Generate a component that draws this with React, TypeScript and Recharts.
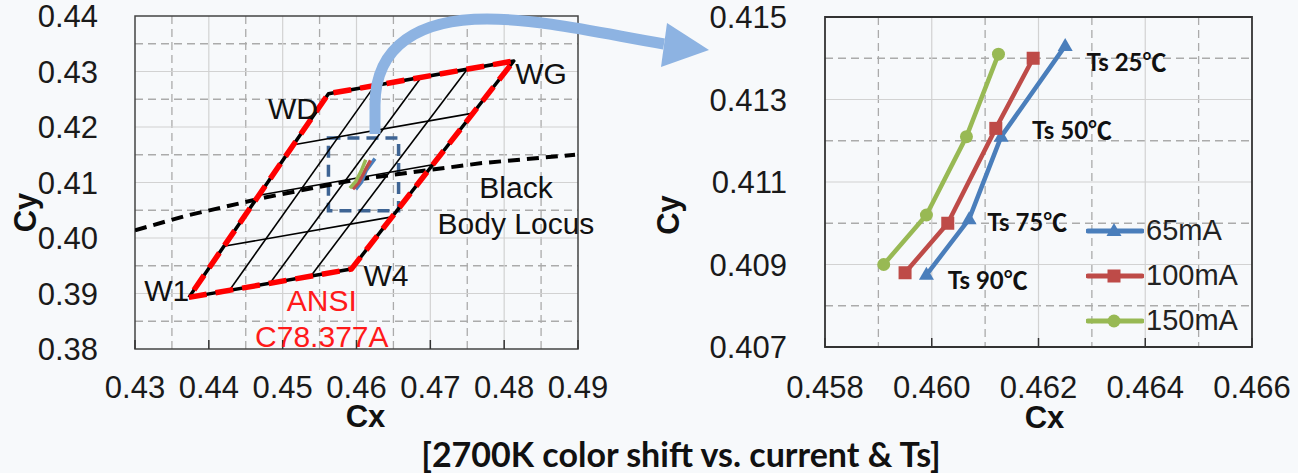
import React from "react";
import {
  ComposedChart,
  Line,
  XAxis,
  YAxis,
  CartesianGrid,
  ReferenceArea,
  ReferenceDot,
  Legend,
} from "recharts";

type Pt = { x: number; y: number };

// ---- left chart (ANSI quadrangle) ----
const leftXTicks = [0.43, 0.44, 0.45, 0.46, 0.47, 0.48, 0.49];
const leftYTicks = [0.38, 0.39, 0.4, 0.41, 0.42, 0.43, 0.44];
const leftXMinor = [0.435, 0.445, 0.455, 0.465, 0.475, 0.485];
const leftYMinor = [0.385, 0.395, 0.405, 0.415, 0.425, 0.435];

// W1 -> W4 -> WG -> WD -> W1
const ansiQuad: Pt[] = [
  { x: 0.4373, y: 0.3893 },
  { x: 0.4593, y: 0.3944 },
  { x: 0.4813, y: 0.4319 },
  { x: 0.4562, y: 0.426 },
  { x: 0.4373, y: 0.3893 },
];

const steepLines: Pt[][] = [
  [{ x: 0.4428, y: 0.3906 }, { x: 0.4625, y: 0.4275 }],
  [{ x: 0.4483, y: 0.3919 }, { x: 0.4688, y: 0.429 }],
  [{ x: 0.4538, y: 0.3931 }, { x: 0.475, y: 0.4304 }],
];

const crossLines: Pt[][] = [
  [{ x: 0.442, y: 0.3985 }, { x: 0.4648, y: 0.4038 }],
  [{ x: 0.4468, y: 0.4077 }, { x: 0.4703, y: 0.4132 }],
  [{ x: 0.4515, y: 0.4168 }, { x: 0.4758, y: 0.4225 }],
];

const blackBodyLocus: Pt[] = [
  { x: 0.43, y: 0.4014 },
  { x: 0.4369, y: 0.404 },
  { x: 0.4476, y: 0.4073 },
  { x: 0.4599, y: 0.4105 },
  { x: 0.477, y: 0.4135 },
  { x: 0.4896, y: 0.415 },
];

const zoomBox = { x1: 0.4562, x2: 0.4657, y1: 0.4049, y2: 0.418 };

const leftNotes = [
  { text: "W1", x: 0.4343, y: 0.3905, color: "#111" },
  { text: "WD", x: 0.4514, y: 0.4234, color: "#111" },
  { text: "WG", x: 0.485, y: 0.4297, color: "#111" },
  { text: "W4", x: 0.464, y: 0.3933, color: "#111" },
  { text: "Black", x: 0.4816, y: 0.4092, color: "#111" },
  { text: "Body Locus", x: 0.4816, y: 0.4027, color: "#111" },
  { text: "ANSI", x: 0.4553, y: 0.3887, color: "#ff1a1a" },
  { text: "C78.377A", x: 0.4553, y: 0.3823, color: "#ff1a1a" },
];

// ---- right chart (zoom) ----
const rightXTicks = [0.458, 0.46, 0.462, 0.464, 0.466];
const rightYTicks = [0.407, 0.409, 0.411, 0.413, 0.415];
const rightXMinor = [0.459, 0.461, 0.463, 0.465];
const rightYMinor = [0.408, 0.41, 0.412, 0.414];

// points at Ts 25, 50, 75, 90 C
const ma65: Pt[] = [
  { x: 0.4625, y: 0.4143 },
  { x: 0.4613, y: 0.4121 },
  { x: 0.4607, y: 0.4101 },
  { x: 0.4599, y: 0.40875 },
];
const ma100: Pt[] = [
  { x: 0.4619, y: 0.414 },
  { x: 0.4612, y: 0.4123 },
  { x: 0.4603, y: 0.41 },
  { x: 0.4595, y: 0.4088 },
];
const ma150: Pt[] = [
  { x: 0.46125, y: 0.4141 },
  { x: 0.46065, y: 0.4121 },
  { x: 0.4599, y: 0.4102 },
  { x: 0.4591, y: 0.409 },
];

const tsNotes = [
  { text: "Ts 25℃", x: 0.4629, y: 0.4139 },
  { text: "Ts 50℃", x: 0.46188, y: 0.41226 },
  { text: "Ts 75℃", x: 0.46104, y: 0.41003 },
  { text: "Ts 90℃", x: 0.4603, y: 0.40862 },
];

const BLUE = "#4a7ebb";
const RED = "#be4b48";
const GREEN = "#98b954";

const series = [
  { name: "65mA", data: ma65, color: BLUE, marker: "triangle" },
  { name: "100mA", data: ma100, color: RED, marker: "square" },
  { name: "150mA", data: ma150, color: GREEN, marker: "circle" },
];

const FONT = "'Liberation Sans', Arial, sans-serif";
const tickStyle = { fill: "#1a1a1a", fontSize: 31, fontFamily: FONT };

function marker(kind: string, color: string, cx: number, cy: number, key?: any) {
  if (kind === "triangle")
    return (
      <path key={key} d={`M${cx},${cy - 8} L${cx + 7.5},${cy + 5} L${cx - 7.5},${cy + 5} Z`} fill={color} />
    );
  if (kind === "square")
    return <rect key={key} x={cx - 6.5} y={cy - 6.5} width={13} height={13} fill={color} />;
  return <circle key={key} cx={cx} cy={cy} r={6.5} fill={color} />;
}

const dotFor = (kind: string, color: string) => (p: any) =>
  marker(kind, color, p.cx, p.cy, `${kind}-${p.index}`);

const axisTitle = (text: string, dx: number, dy: number, vertical: boolean) => (props: any) => {
  const vb = props.viewBox || { x: 0, y: 0, width: 0, height: 0 };
  const x = vertical ? vb.x + dx : vb.x + vb.width / 2 + dx;
  const y = vertical ? vb.y + vb.height / 2 + dy : vb.y + dy;
  return (
    <text
      x={x}
      y={y}
      textAnchor="middle"
      dominantBaseline="central"
      transform={vertical ? `rotate(-90, ${x}, ${y})` : undefined}
      fontFamily={FONT}
      fontWeight="bold"
      fontSize={31}
      fill="#111"
    >
      {text}
    </text>
  );
};

function LegendBox() {
  return (
    <div>
      {series.map((s) => (
        <div key={s.name} style={{ display: "flex", alignItems: "center", height: 45 }}>
          <svg width={58} height={24}>
            <line x1={2} y1={12} x2={56} y2={12} stroke={s.color} strokeWidth={5} strokeLinecap="round" />
            {marker(s.marker, s.color, 28, 12)}
          </svg>
          <span style={{ fontFamily: FONT, fontSize: 29, color: "#222", marginLeft: 2, lineHeight: "45px" }}>
            {s.name}
          </span>
        </div>
      ))}
    </div>
  );
}

function LeftChart() {
  return (
    <ComposedChart width={620} height={473} margin={{ top: 16, right: 42, bottom: 0, left: 0 }}>
      <CartesianGrid horizontalValues={leftYMinor} verticalValues={leftXMinor} stroke="#ababab" strokeWidth={1.3} strokeDasharray="8 5" />
      <CartesianGrid horizontalValues={leftYTicks.slice(1, -1)} verticalValues={leftXTicks.slice(1, -1)} stroke="#d2d2d2" strokeWidth={1.2} />
      <XAxis
        dataKey="x"
        type="number"
        domain={[0.43, 0.49]}
        ticks={leftXTicks}
        tickFormatter={(v: number) => v.toFixed(2)}
        allowDataOverflow
        height={124}
        axisLine={false}
        tickSize={-9}
        tickMargin={36}
        tickLine={{ stroke: "#333", strokeWidth: 1.5 }}
        tick={tickStyle}
        interval={0}
        label={{ content: axisTitle("Cx", 9, 67, false) } as any}
      />
      <YAxis
        dataKey="y"
        type="number"
        domain={[0.38, 0.44]}
        ticks={leftYTicks}
        tickFormatter={(v: number) => v.toFixed(2)}
        allowDataOverflow
        width={135}
        axisLine={false}
        tickLine={false}
        tickSize={0}
        tickMargin={37}
        tick={tickStyle}
        interval={0}
        label={{ content: axisTitle("Cy", 25, 30, true) } as any}
      />
      <ReferenceArea x1={0.43} x2={0.49} y1={0.38} y2={0.44} fill="none" stroke="#444" strokeWidth={1.5} />
      {steepLines.concat(crossLines).map((seg, i) => (
        <Line key={`g${i}`} data={seg} dataKey="y" type="linear" stroke="#000" strokeWidth={1.6} dot={false} activeDot={false} isAnimationActive={false} legendType="none" />
      ))}
      <Line data={ansiQuad} dataKey="y" type="linear" stroke="#000" strokeWidth={3.5} strokeLinejoin="round" dot={false} activeDot={false} isAnimationActive={false} legendType="none" />
      <Line data={blackBodyLocus} dataKey="y" type="linear" stroke="#000" strokeWidth={4} strokeDasharray="12 7" dot={false} activeDot={false} isAnimationActive={false} legendType="none" />
      <Line data={ansiQuad} dataKey="y" type="linear" stroke="#ff0000" strokeWidth={5.5} strokeDasharray="18 9" strokeLinejoin="round" dot={false} activeDot={false} isAnimationActive={false} legendType="none" />
      <ReferenceArea {...zoomBox} fill="none" stroke="#3e6494" strokeWidth={3.5} strokeDasharray="12 7" />
      {series.map((s) => (
        <Line key={s.name} data={s.data} dataKey="y" type="linear" stroke={s.color} strokeWidth={3.5} dot={false} activeDot={false} isAnimationActive={false} legendType="none" />
      ))}
      {leftNotes.map((n) => (
        <ReferenceDot
          key={n.text}
          x={n.x}
          y={n.y}
          r={0}
          stroke="none"
          label={{ value: n.text, position: "center", fill: n.color, fontSize: 30, fontFamily: FONT }}
        />
      ))}
    </ComposedChart>
  );
}

function RightChart() {
  return (
    <ComposedChart width={658} height={473} margin={{ top: 17, right: 46, bottom: 0, left: 0 }}>
      <CartesianGrid horizontalValues={rightYMinor} verticalValues={rightXMinor} stroke="#ababab" strokeWidth={1.3} strokeDasharray="8 5" />
      <CartesianGrid horizontalValues={rightYTicks.slice(1, -1)} verticalValues={rightXTicks.slice(1, -1)} stroke="#d2d2d2" strokeWidth={1.2} />
      <XAxis
        dataKey="x"
        type="number"
        domain={[0.458, 0.466]}
        ticks={rightXTicks}
        tickFormatter={(v: number) => v.toFixed(3)}
        allowDataOverflow
        height={126}
        axisLine={false}
        tickSize={-9}
        tickMargin={38}
        tickLine={{ stroke: "#333", strokeWidth: 1.5 }}
        tick={tickStyle}
        interval={0}
        label={{ content: axisTitle("Cx", 6, 70, false) } as any}
      />
      <YAxis
        dataKey="y"
        type="number"
        domain={[0.407, 0.415]}
        ticks={rightYTicks}
        tickFormatter={(v: number) => v.toFixed(3)}
        allowDataOverflow
        width={185}
        axisLine={false}
        tickLine={false}
        tickSize={0}
        tickMargin={38}
        tick={tickStyle}
        interval={0}
        label={{ content: axisTitle("Cy", 28, 33, true) } as any}
      />
      <ReferenceArea x1={0.458} x2={0.466} y1={0.407} y2={0.415} fill="none" stroke="#333" strokeWidth={1.8} />
      {series.map((s) => (
        <Line
          key={s.name}
          name={s.name}
          data={s.data}
          dataKey="y"
          type="linear"
          stroke={s.color}
          strokeWidth={4.5}
          strokeLinejoin="round"
          dot={dotFor(s.marker, s.color)}
          activeDot={false}
          isAnimationActive={false}
        />
      ))}
      {tsNotes.map((n) => (
        <ReferenceDot
          key={n.text}
          x={n.x}
          y={n.y}
          r={0}
          stroke="none"
          label={{
            value: n.text,
            position: "right",
            offset: 0,
            fill: "#111",
            fontSize: 24,
            fontWeight: "bold",
            fontFamily: "Lato, 'Noto Sans CJK SC', sans-serif",
          }}
        />
      ))}
      <Legend
        layout="vertical"
        align="center"
        verticalAlign="middle"
        content={() => <LegendBox />}
        wrapperStyle={{ left: 446, top: 208, width: 180, height: 135 }}
      />
    </ComposedChart>
  );
}

export default function App() {
  return (
    <div
      style={{
        position: "absolute",
        left: 0,
        top: 0,
        width: 1298,
        height: 473,
        background: "#f7f9fb",
        overflow: "hidden",
      }}
    >
      <div style={{ position: "absolute", left: 0, top: 0 }}>
        <LeftChart />
      </div>
      <div style={{ position: "absolute", left: 640, top: 0 }}>
        <RightChart />
      </div>
      <svg width={1298} height={473} style={{ position: "absolute", left: 0, top: 0, pointerEvents: "none" }}>
        <path
          d="M375,134 L375,105 C375,45 420,19 487,19 C540,19 600,33 664,44"
          fill="none"
          stroke="#8db3e2"
          strokeWidth={11}
        />
        <polygon points="667,23 709,50 661,67" fill="#8db3e2" />
      </svg>
      <div
        style={{
          position: "absolute",
          left: 381,
          width: 600,
          top: 434,
          textAlign: "center",
          fontFamily: "Lato, sans-serif",
          fontWeight: "bold",
          fontSize: 34,
          lineHeight: "40px",
          color: "#111",
        }}
      >
        [2700K color shift vs. current &amp; Ts]
      </div>
    </div>
  );
}
